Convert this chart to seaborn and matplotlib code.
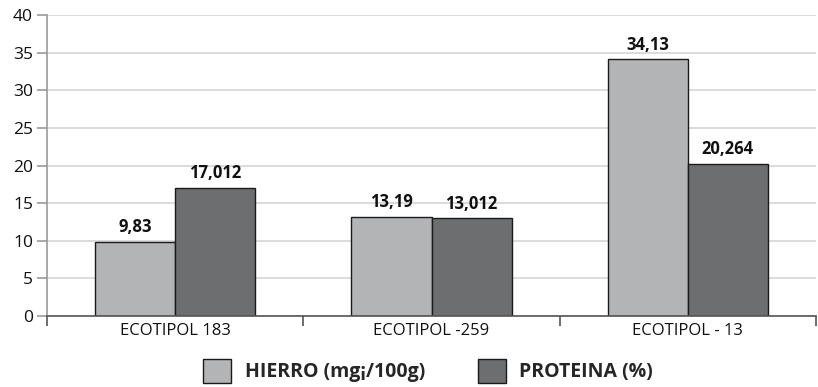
import matplotlib
matplotlib.use("Agg")
import matplotlib.pyplot as plt
import seaborn as sns
import pandas as pd
from matplotlib.ticker import FixedLocator

categories = ["ECOTIPOL 183", "ECOTIPOL -259", "ECOTIPOL - 13"]
series_names = ["HIERRO (mg¡/100g)", "PROTEINA (%)"]
hierro = [9.83, 13.19, 34.13]
proteina = [17.012, 13.012, 20.264]
hierro_labels = ["9,83", "13,19", "34,13"]
proteina_labels = ["17,012", "13,012", "20,264"]
y_ticks = [0, 5, 10, 15, 20, 25, 30, 35, 40]

df = pd.DataFrame({
    "cat": categories * 2,
    "serie": [series_names[0]] * 3 + [series_names[1]] * 3,
    "val": hierro + proteina,
})

sns.set_theme(style="white")
plt.rcParams["font.family"] = ["Open Sans", "DejaVu Sans"]

fig = plt.figure(figsize=(8.18, 3.87), dpi=100)
ax = fig.add_axes([47/818, 1-316/387, (816-47)/818, (316-15)/387])

palette = {series_names[0]: "#b3b4b6", series_names[1]: "#6d6e70"}
sns.barplot(data=df, x="cat", y="val", hue="serie", order=categories,
            hue_order=series_names, palette=palette, width=0.625, gap=0,
            edgecolor="#1a1a1a", linewidth=1.0, saturation=1, ax=ax,
            legend=True, errorbar=None)

for cont, labs in zip(ax.containers, [hierro_labels, proteina_labels]):
    ax.bar_label(cont, labels=labs, padding=4, fontsize=12, fontweight="bold", color="#111111")

ax.set_ylim(0, 40)
ax.set_xlim(-0.5, 2.5)
ax.set_yticks(y_ticks)
ax.yaxis.grid(True, color="#d4d4d4", linewidth=1.2)
ax.set_axisbelow(True)
ax.set_xlabel("")
ax.set_ylabel("")

for s in ["top", "right"]:
    ax.spines[s].set_visible(False)
ax.spines["left"].set_color("#9a9a9a")
ax.spines["left"].set_linewidth(1.2)
ax.spines["bottom"].set_color("#555555")
ax.spines["bottom"].set_linewidth(1.2)

ax.tick_params(axis="y", which="major", length=7, width=1.2, color="#9a9a9a",
               labelsize=12.5, labelcolor="#111111", left=True, pad=3)
ax.tick_params(axis="x", which="major", length=0, labelsize=12, labelcolor="#111111", pad=5)
ax.xaxis.set_minor_locator(FixedLocator([-0.5, 0.5, 1.5, 2.5]))
ax.tick_params(axis="x", which="minor", length=7, width=1.2, color="#555555", bottom=True)

handles, labels = ax.get_legend_handles_labels()
ax.get_legend().remove()
fig.legend(handles, labels, loc="center", bbox_to_anchor=(428/818, 1-371/387), ncol=2,
           frameon=False, handlelength=1.45, handleheight=1.45, handletextpad=0.7,
           columnspacing=2.7, prop={"weight": "bold", "size": 14})

fig.savefig("out.png", dpi=100)
